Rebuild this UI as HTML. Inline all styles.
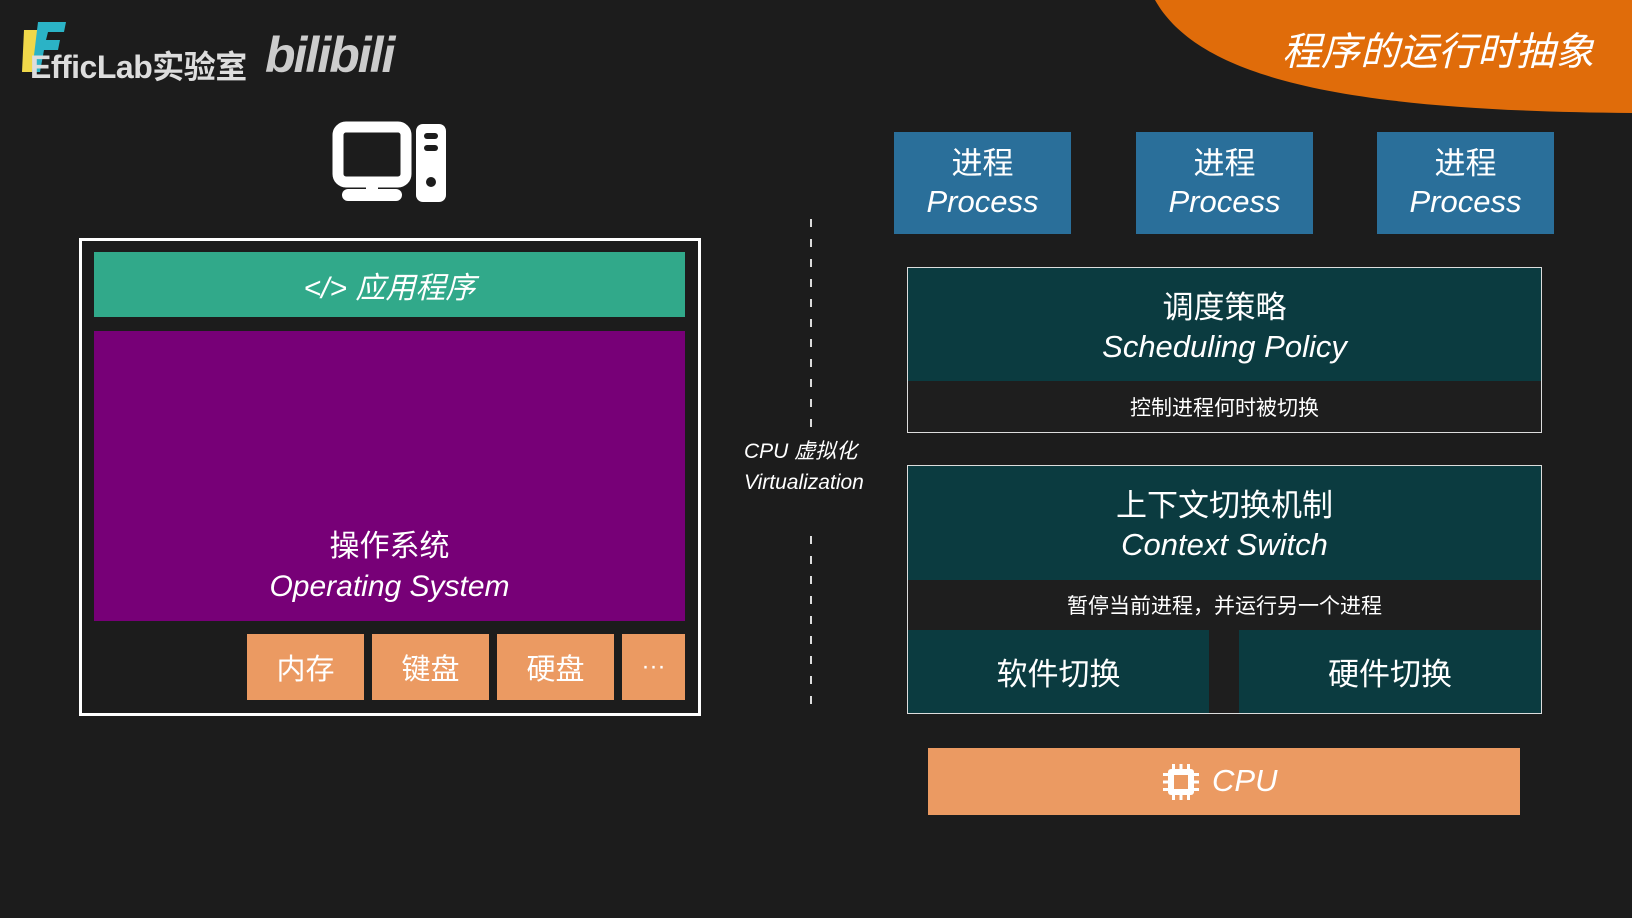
<!DOCTYPE html>
<html><head><meta charset="utf-8"><style>
*{margin:0;padding:0;box-sizing:border-box}
body{width:1632px;height:918px;background:#1c1c1c;position:relative;overflow:hidden;font-family:"Liberation Sans","Noto Sans CJK SC",sans-serif;color:#fff}
.a{position:absolute}
.c{display:flex;flex-direction:column;align-items:center;justify-content:center;text-align:center}
i{font-style:italic}
</style></head><body>
<svg class="a" style="left:0;top:0" width="1632" height="918">
<path d="M1155 0 C1200 80 1350 111 1632 113 L1632 0 Z" fill="#e06c0a"/>
<line x1="811" y1="219" x2="811" y2="427" stroke="#ddd" stroke-width="2" stroke-dasharray="8 12"/>
<line x1="811" y1="536" x2="811" y2="711" stroke="#ddd" stroke-width="2" stroke-dasharray="8 12"/>
<path d="M24 30 L40 30 L34 72 L22 72 Z" fill="#f0d84a"/>
<path d="M38 22 L66 22 L64 32 L48 32 L46 40 L60 40 L58 50 L44 50 L40 72 L32 72 Z" fill="#2bb3c6"/>
<rect x="338" y="127" width="68" height="55" rx="8" fill="none" stroke="#fff" stroke-width="11"/>
<rect x="366" y="180" width="12" height="12" fill="#fff"/>
<rect x="342" y="189" width="60" height="12" rx="6" fill="#fff"/>
<rect x="416" y="124" width="30" height="78" rx="7" fill="#fff"/>
<rect x="424" y="133" width="14" height="6" rx="3" fill="#1c1c1c"/>
<rect x="424" y="145" width="14" height="6" rx="3" fill="#1c1c1c"/>
<circle cx="431" cy="182" r="5" fill="#1c1c1c"/>
</svg>
<div class="a" style="left:30px;top:42px;font-size:32px;font-weight:bold;color:#ddd;white-space:nowrap;letter-spacing:-0.5px">EfficLab实验室</div>
<div class="a" style="left:265px;top:26px;font-size:50px;font-weight:bold;font-style:italic;color:#ccc;letter-spacing:-2px">bilibili</div>
<div class="a" style="left:1282px;top:21px;font-size:39px;font-style:italic;white-space:nowrap">程序的运行时抽象</div>

<div class="a" style="left:79px;top:238px;width:622px;height:478px;border:3px solid #fff"></div>
<div class="a c" style="left:94px;top:252px;width:591px;height:65px;background:#31a98a;font-size:30px;font-style:italic">&lt;/&gt; 应用程序</div>
<div class="a c" style="left:94px;top:331px;width:591px;height:290px;background:#770077;font-size:30px;justify-content:flex-end;padding-bottom:14px;line-height:40px"><div>操作系统</div><i>Operating System</i></div>
<div class="a c" style="left:247px;top:634px;width:117px;height:66px;background:#eb9a62;font-size:29px">内存</div>
<div class="a c" style="left:372px;top:634px;width:117px;height:66px;background:#eb9a62;font-size:29px">键盘</div>
<div class="a c" style="left:497px;top:634px;width:117px;height:66px;background:#eb9a62;font-size:29px">硬盘</div>
<div class="a c" style="left:622px;top:634px;width:63px;height:66px;background:#eb9a62;font-size:24px">···</div>

<div class="a" style="left:744px;top:436px;font-size:21px;font-style:italic;line-height:31px">CPU 虚拟化<br>Virtualization</div>

<div class="a c" style="left:894px;top:132px;width:177px;height:102px;background:#2a6f9a;font-size:31px;line-height:38px"><div>进程</div><i>Process</i></div>
<div class="a c" style="left:1136px;top:132px;width:177px;height:102px;background:#2a6f9a;font-size:31px;line-height:38px"><div>进程</div><i>Process</i></div>
<div class="a c" style="left:1377px;top:132px;width:177px;height:102px;background:#2a6f9a;font-size:31px;line-height:38px"><div>进程</div><i>Process</i></div>

<div class="a" style="left:907px;top:267px;width:635px;height:166px;border:1px solid #ddd;background:#1e1e1e"></div>
<div class="a c" style="left:908px;top:268px;width:633px;height:113px;background:#0b3b40;font-size:31px;line-height:39px;padding-top:4px"><div>调度策略</div><i>Scheduling Policy</i></div>
<div class="a c" style="left:908px;top:381px;width:633px;height:51px;font-size:21px">控制进程何时被切换</div>

<div class="a" style="left:907px;top:465px;width:635px;height:249px;border:1px solid #ddd;background:#1e1e1e"></div>
<div class="a c" style="left:908px;top:466px;width:633px;height:114px;background:#0b3b40;font-size:31px;line-height:39px;padding-top:4px"><div>上下文切换机制</div><i>Context Switch</i></div>
<div class="a c" style="left:908px;top:580px;width:633px;height:50px;font-size:21px">暂停当前进程，并运行另一个进程</div>
<div class="a c" style="left:908px;top:630px;width:301px;height:83px;background:#0b3b40;font-size:31px">软件切换</div>
<div class="a c" style="left:1239px;top:630px;width:302px;height:83px;background:#0b3b40;font-size:31px">硬件切换</div>

<div class="a" style="left:928px;top:748px;width:592px;height:67px;background:#eb9a62"></div>
<div class="a" style="left:1212px;top:763px;font-size:31px;font-style:italic">CPU</div>
<svg class="a" style="left:1160px;top:761px" width="42" height="42"><g transform="translate(21,21)" fill="#fff">
<rect x="-18" y="-9" width="36" height="3"/><rect x="-18" y="-1.5" width="36" height="3"/><rect x="-18" y="6" width="36" height="3"/>
<rect x="-9" y="-18" width="3" height="36"/><rect x="-1.5" y="-18" width="3" height="36"/><rect x="6" y="-18" width="3" height="36"/>
<rect x="-13" y="-13" width="26" height="26" rx="3"/>
<rect x="-7" y="-7" width="14" height="14" fill="#eb9a62"/></g></svg>
</body></html>
